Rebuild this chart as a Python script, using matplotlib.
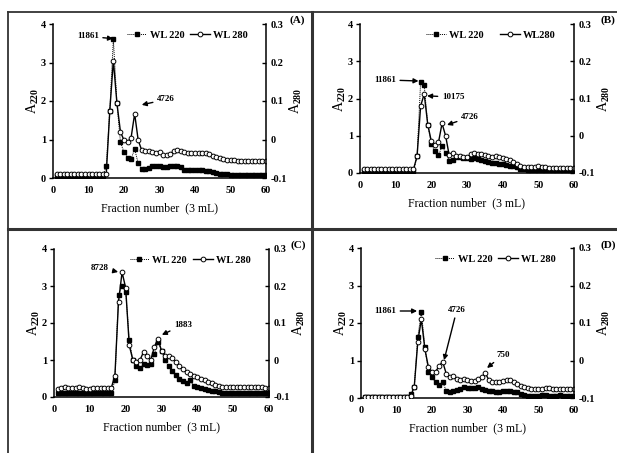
import numpy as np
import matplotlib
matplotlib.use("Agg")
from matplotlib import pyplot as plt
from matplotlib.lines import Line2D

# --------------- datos (fracciones 1..60)

fracciones = list(range(1, 61))

# panel A
a_wl220 = [0.05] * 14 + [0.3, 1.75, 3.6, 1.95, 0.93, 0.67, 0.53, 0.5, 0.75, 0.38,
                         0.23, 0.23, 0.27, 0.3, 0.32, 0.32, 0.28, 0.28, 0.3, 0.3,
                         0.3, 0.28, 0.22, 0.2, 0.2, 0.2, 0.2, 0.2, 0.18, 0.17,
                         0.15, 0.12, 0.11, 0.1, 0.1, 0.09, 0.08] + [0.07] * 9
a_wl280 = [-0.09] * 15 + [0.075, 0.205, 0.095, 0.02, -0.002, -0.007, 0.005, 0.067, -0.002, -0.028,
                          -0.03, -0.03, -0.033, -0.035, -0.032, -0.04, -0.04, -0.038, -0.03, -0.028,
                          -0.03, -0.033, -0.035, -0.035, -0.035, -0.035, -0.035, -0.035, -0.038, -0.042,
                          -0.045, -0.048, -0.05, -0.052, -0.053, -0.052, -0.055] + [-0.057] * 8

# panel B
b_wl220 = [0.05] * 15 + [0.45, 2.45, 2.35, 1.3, 0.78, 0.58, 0.47, 0.72, 0.55, 0.33,
                         0.35, 0.42, 0.42, 0.4, 0.4, 0.38, 0.4, 0.38, 0.36, 0.33,
                         0.3, 0.28, 0.28, 0.25, 0.23, 0.22, 0.2, 0.18, 0.15, 0.12,
                         0.1, 0.08] + [0.07] * 13
b_wl280 = [-0.09] * 15 + [-0.055, 0.08, 0.112, 0.03, -0.015, -0.025, -0.018, 0.033, 0.0, -0.052,
                          -0.045, -0.055, -0.055, -0.057, -0.058, -0.05, -0.047, -0.05, -0.05, -0.052,
                          -0.055, -0.057, -0.055, -0.057, -0.06, -0.062, -0.065, -0.07, -0.075, -0.08,
                          -0.083, -0.085, -0.085, -0.085, -0.082, -0.085, -0.085] + [-0.087] * 8

# panel C
c_wl220 = [0.1] * 16 + [0.45, 2.75, 3.0, 2.85, 1.55, 1.0, 0.85, 0.78, 0.88, 0.87,
                        0.9, 1.15, 1.5, 1.25, 1.0, 0.85, 0.7, 0.6, 0.5, 0.42,
                        0.38, 0.45, 0.3, 0.28, 0.25, 0.22, 0.2, 0.17, 0.15, 0.13,
                        0.12] + [0.1] * 13
c_wl280 = [-0.078, -0.075, -0.073, -0.075, -0.075, -0.076, -0.073, -0.075, -0.078, -0.078,
           -0.075, -0.077, -0.075, -0.075, -0.075, -0.075, -0.042, 0.158, 0.237, 0.195,
           0.04, 0.0, -0.005, 0.0, 0.022, 0.01, 0.0, 0.035, 0.058, 0.025,
           0.01, 0.012, 0.005, -0.005, -0.015, -0.025, -0.033, -0.038, -0.042, -0.045,
           -0.05, -0.055, -0.06, -0.063, -0.067, -0.07, -0.072] + [-0.074] * 9 + [-0.072, -0.074, -0.075, -0.076]

# panel D
d_wl220 = [0.03] * 13 + [0.1, 0.3, 1.62, 2.3, 1.35, 0.7, 0.55, 0.42, 0.35, 0.42,
                         0.2, 0.15, 0.18, 0.22, 0.25, 0.3, 0.28, 0.27, 0.28, 0.3,
                         0.25, 0.22, 0.2, 0.18, 0.17, 0.17, 0.18, 0.18, 0.18, 0.17,
                         0.15, 0.12, 0.08, 0.06, 0.05, 0.05, 0.06, 0.08, 0.07, 0.05,
                         0.05, 0.06, 0.08, 0.06, 0.05, 0.06, 0.05]
d_wl280 = [-0.097] * 8 + [-0.098] * 5 + [-0.095, -0.07, 0.05, 0.11, 0.03, -0.018, -0.03, -0.03, -0.015, -0.003,
                                         -0.035, -0.045, -0.042, -0.05, -0.052, -0.048, -0.052, -0.055, -0.055, -0.05,
                                         -0.045, -0.033, -0.052, -0.057, -0.058, -0.058, -0.055, -0.053, -0.053, -0.057,
                                         -0.063, -0.067, -0.07, -0.073] + [-0.075] * 4 + [-0.072, -0.073] + [-0.075] * 7

etiquetas_leyenda = {"A": ("WL 220", "WL 280"), "B": ("WL 220", "WL280"),
                     "C": ("WL 220", "WL 280"), "D": ("WL 220", "WL 280")}

# anotaciones: (texto, punto, posicion del texto) en unidades de A220
anotaciones = {
    "A": [("11861", (16.9, 3.62), (9.8, 3.68)), ("4726", (25.0, 1.9), (31.8, 2.04))],
    "B": [("11861", (16.4, 2.47), (7.0, 2.5)), ("10175", (18.8, 2.07), (26.1, 2.04)),
          ("4726", (24.4, 1.29), (30.8, 1.5))],
    "C": [("8728", (17.9, 3.38), (12.8, 3.49)), ("1883", (30.1, 1.68), (36.0, 1.95))],
    "D": [("11861", (15.8, 2.32), (6.8, 2.32)), ("4726", (23.4, 1.01), (27.0, 2.35)),
          ("750", (35.5, 0.8), (40.0, 1.15))],
}

# --------------- estilo

plt.rcParams["font.family"] = "Liberation Serif"
plt.rcParams["font.weight"] = "bold"
plt.rcParams["mathtext.fontset"] = "custom"
plt.rcParams["mathtext.rm"] = "Liberation Serif:bold"
plt.rcParams["mathtext.it"] = "Liberation Serif:bold"
plt.rcParams["mathtext.bf"] = "Liberation Serif:bold"

W, H = 617, 453
fig = plt.figure(figsize=(W / 100, H / 100), dpi=100)


def fx(px):
    return px / W


def fy(py):
    return 1 - py / H


# posiciones de cada panel en pixeles: (izq, der, arriba, abajo) del eje
cajas = {
    "A": (53, 266, 24, 178),
    "B": (360, 574, 24, 173),
    "C": (54, 269, 249, 397),
    "D": (361, 574, 248, 398),
}
datos = {"A": (a_wl220, a_wl280), "B": (b_wl220, b_wl280),
         "C": (c_wl220, c_wl280), "D": (d_wl220, d_wl280)}

for letra, (izq, der, arr, aba) in cajas.items():
    ax = fig.add_axes([fx(izq), fy(aba), (der - izq) / W, (aba - arr) / H])
    ax2 = ax.twinx()
    wl220, wl280 = datos[letra]

    l1, = ax.plot(fracciones, wl220, color="black", lw=0.7, ls=(0, (1, 1)),
                  marker="s", ms=2.3, mfc="black", mec="black")
    l2, = ax2.plot(fracciones, wl280, color="black", lw=1.0, ls="-",
                   marker="o", ms=3.4, mfc="white", mec="black", mew=0.7)

    ax.set_xlim(0, 60)
    ax.set_ylim(0, 4)
    ax2.set_ylim(-0.1, 0.3)
    ax.set_xticks(range(0, 61, 10))
    ax.set_yticks(range(0, 5))
    ax2.set_yticks([-0.1, 0, 0.1, 0.2, 0.3])
    ax2.set_yticklabels(["-0.1", "0", "0.1", "0.2", "0.3"])

    for a in (ax, ax2):
        a.spines["top"].set_visible(False)
        for s in a.spines.values():
            s.set_linewidth(1.1)
    ax.spines["right"].set_visible(False)
    ax2.spines["left"].set_visible(False)
    ax2.spines["bottom"].set_visible(False)

    ax.tick_params(axis="y", direction="out", length=3, width=1, labelsize=7.5, pad=2)
    ax.tick_params(axis="x", length=0, labelsize=7.5, pad=6)
    ax2.tick_params(axis="y", direction="in", length=3, width=1, labelsize=7.5, pad=3)

    ax.set_xlabel("Fraction number  (3 mL)", fontsize=8.5, labelpad=5)
    ax.set_ylabel(r"A$_{220}$", fontsize=10, labelpad=0)
    ax2.set_ylabel(r"A$_{280}$", fontsize=10, labelpad=1)

    ax2.legend([l1, l2], etiquetas_leyenda[letra], loc="upper right",
               bbox_to_anchor=(0.96, 1.02), ncol=2, frameon=False, fontsize=7.5,
               handlelength=1.9, handletextpad=0.3, columnspacing=0.6 if letra != "B" else 1.6)

    for texto, punto, pos in anotaciones[letra]:
        ax.annotate(texto, xy=punto, xytext=pos, fontsize=6.5, ha="center", va="center",
                    arrowprops=dict(arrowstyle="-|>", color="black", lw=1.0,
                                    mutation_scale=7, shrinkA=1, shrinkB=0))

    ax2.set_zorder(ax.get_zorder() + 1)
    ax.patch.set_visible(False)
    ax2.patch.set_visible(False)

# etiquetas de panel
fig.text(fx(297), fy(20), "(A)", fontsize=8, ha="center", va="center")
fig.text(fx(608), fy(20), "(B)", fontsize=8, ha="center", va="center")
fig.text(fx(298), fy(245), "(C)", fontsize=8, ha="center", va="center")
fig.text(fx(608), fy(245), "(D)", fontsize=8, ha="center", va="center")

# bordes de los recuadros
borde = "#333333"
fig.add_artist(Line2D([fx(8), fx(617)], [fy(12), fy(12)], color=borde, lw=1.3))
fig.add_artist(Line2D([fx(8), fx(8)], [fy(12), fy(453)], color=borde, lw=1.3))
fig.add_artist(Line2D([fx(312), fx(312)], [fy(12), fy(453)], color=borde, lw=2.2))
fig.add_artist(Line2D([fx(8), fx(617)], [fy(229), fy(229)], color=borde, lw=2.2))

fig.savefig("out.png", dpi=100)
